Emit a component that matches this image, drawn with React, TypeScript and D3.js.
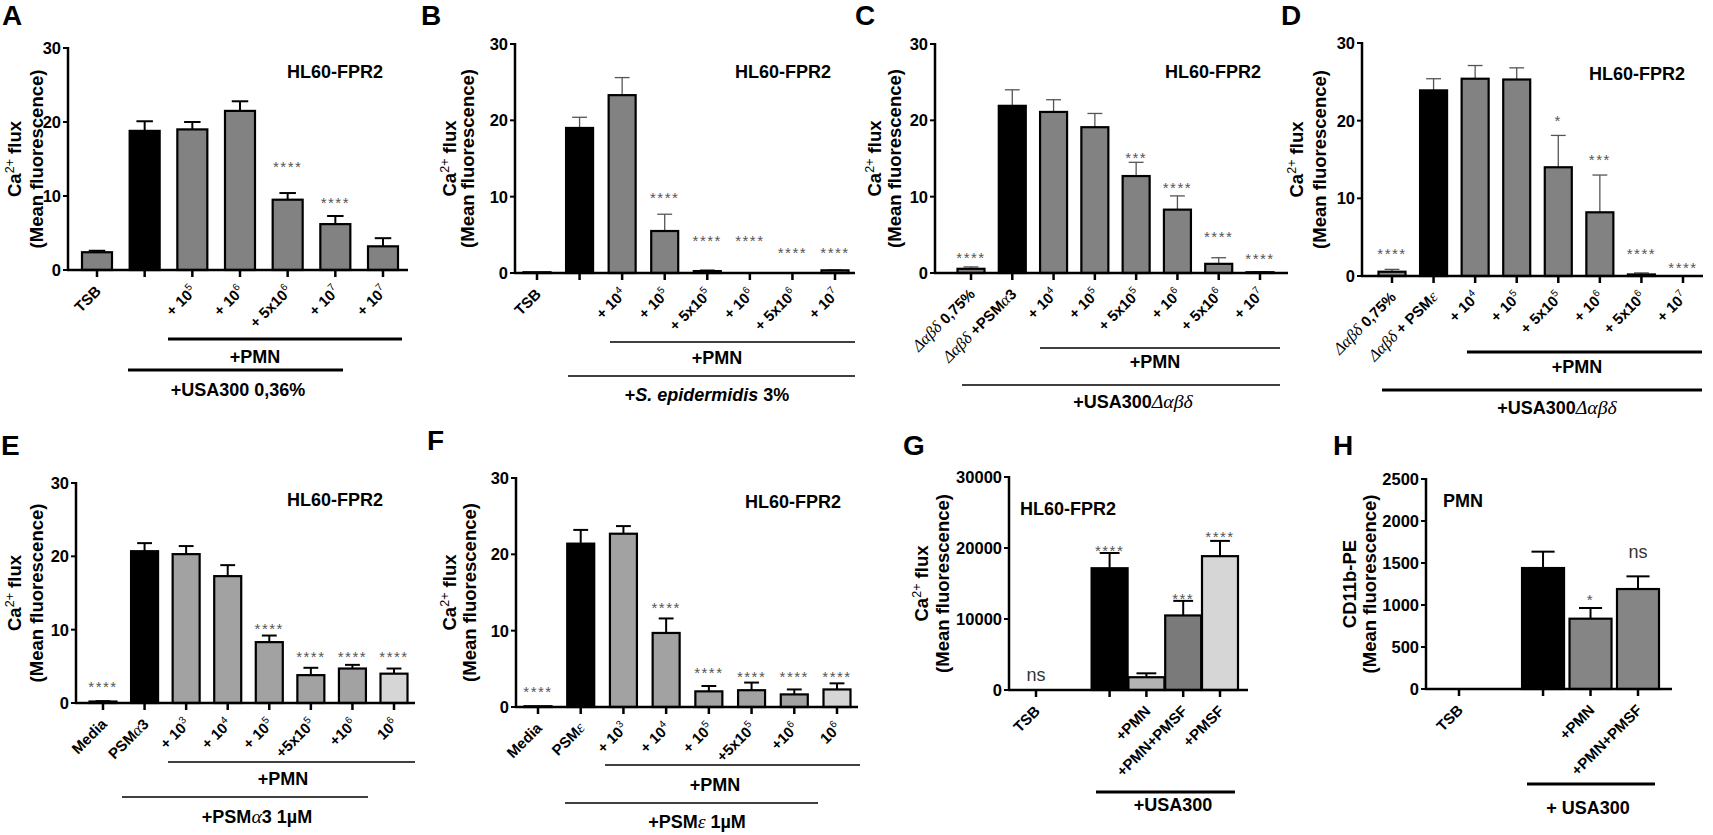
import React from "react";
import * as d3 from "d3";

// ---------- DATA ----------
// Panel A
const aLabels = ["TSB", "", "+ 10^5", "+ 10^6", "+ 5x10^6", "+ 10^7", "+ 10^7"];
const aMeans = [2.4, 18.8, 19.0, 21.5, 9.5, 6.2, 3.2];
const aErrors = [0.2, 1.3, 1.0, 1.3, 0.9, 1.1, 1.1];
const aMarks = ["", "", "", "", "****", "****", ""];
const aMarkY = [0, 0, 0, 0, 14.5, 9.6, 0];
const aGroups = ["+PMN", "+USA300 0,36%"];
const aTicks = [0, 10, 20, 30];

// Panel B
const bLabels = ["TSB", "", "+ 10^4", "+ 10^5", "+ 5x10^5", "+ 10^6", "+ 5x10^6", "+ 10^7"];
const bMeans = [0.1, 19.0, 23.3, 5.5, 0.25, 0, 0, 0.35];
const bErrors = [0, 1.4, 2.3, 2.2, 0.15, 0, 0, 0.05];
const bMarks = ["", "", "", "****", "****", "****", "****", "****"];
const bMarkY = [0, 0, 0, 10.4, 4.7, 4.7, 3.2, 3.2];
const bGroups = ["+PMN", "+_S. epidermidis_ 3%"];
const bTicks = [0, 10, 20, 30];

// Panel C
const cLabels = ["Δαβδ 0,75%", "Δαβδ +PSMα3", "+ 10^4", "+ 10^5", "+ 5x10^5", "+ 10^6", "+ 5x10^6", "+ 10^7"];
const cMeans = [0.55, 21.9, 21.1, 19.1, 12.7, 8.3, 1.2, 0.1];
const cErrors = [0.25, 2.1, 1.6, 1.8, 1.8, 1.8, 0.8, 0.05];
const cMarks = ["****", "", "", "", "***", "****", "****", "****"];
const cMarkY = [2.5, 0, 0, 0, 15.6, 11.6, 5.2, 2.4];
const cGroups = ["+PMN", "+USA300Δαβδ"];
const cTicks = [0, 10, 20, 30];

// Panel D
const dLabels = ["Δαβδ 0,75%", "Δαβδ + PSMε", "+ 10^4", "+ 10^5", "+ 5x10^5", "+ 10^6", "+ 5x10^6", "+ 10^7"];
const dMeans = [0.55, 23.9, 25.4, 25.3, 14.0, 8.2, 0.2, 0];
const dErrors = [0.3, 1.5, 1.7, 1.5, 4.1, 4.8, 0.2, 0];
const dMarks = ["****", "", "", "", "*", "***", "****", "****"];
const dMarkY = [3.4, 0, 0, 0, 20.5, 15.5, 3.4, 1.6];
const dGroups = ["+PMN", "+USA300Δαβδ"];
const dTicks = [0, 10, 20, 30];

// Panel E
const eLabels = ["Media", "PSMα3", "+ 10^3", "+ 10^4", "+ 10^5", "+5x10^5", "+10^6", "10^6"];
const eMeans = [0.2, 20.7, 20.3, 17.3, 8.3, 3.8, 4.7, 4.0];
const eErrors = [0.05, 1.1, 1.1, 1.5, 0.9, 1.0, 0.5, 0.7];
const eMarks = ["****", "", "", "", "****", "****", "****", "****"];
const eMarkY = [2.7, 0, 0, 0, 10.7, 6.8, 6.8, 6.8];
const eGroups = ["+PMN", "+PSMα3 1µM"];
const eTicks = [0, 10, 20, 30];

// Panel F
const fLabels = ["Media", "PSMε", "+ 10^3", "+ 10^4", "+ 10^5", "+5x10^5", "+10^6", "10^6"];
const fMeans = [0.1, 21.4, 22.7, 9.7, 2.05, 2.2, 1.65, 2.3];
const fErrors = [0, 1.8, 1.0, 1.9, 0.7, 1.0, 0.65, 0.8];
const fMarks = ["****", "", "", "****", "****", "****", "****", "****"];
const fMarkY = [2.5, 0, 0, 13.5, 5.0, 4.4, 4.4, 4.4];
const fGroups = ["+PMN", "+PSMε 1µM"];
const fTicks = [0, 10, 20, 30];

// Panel G
const gLabels = ["TSB", "", "+PMN", "+PMN+PMSF", "+PMSF"];
const gMeans = [0, 17150, 1800, 10500, 18850];
const gErrors = [0, 2150, 550, 2050, 2150];
const gMarks = ["ns", "****", "", "***", "****"];
const gMarkY = [2150, 20200, 0, 13400, 22100];
const gGroups = ["+USA300"];
const gTicks = [0, 10000, 20000, 30000];

// Panel H
const hLabels = ["TSB", "", "+PMN", "+PMN+PMSF"];
const hMeans = [0, 1440, 837, 1190];
const hErrors = [0, 195, 127, 151];
const hMarks = ["", "", "*", "ns"];
const hMarkY = [0, 0, 1103, 1639];
const hGroups = ["+ USA300"];
const hTicks = [0, 500, 1000, 1500, 2000, 2500];

const caTitle = ["Ca^2+ flux", "(Mean fluorescence)"];
const cdTitle = ["CD11b-PE", "(Mean fluorescence)"];

// ---------- STYLE / LAYOUT ----------
const SANS = "'Liberation Sans', Arial, Helvetica, sans-serif";
const SERIF = "'Liberation Serif', 'Times New Roman', serif";
const G1 = "#828282";
const GE = "#a2a2a2";
const GL = "#d6d6d6";

const FS_TICK = 16.5;
const FS_XLAB = 15;
const FS_TITLE = 18.5;
const FS_NOTE = 18;
const FS_GROUP = 18;
const FS_LETTER = 28;

type GroupLine = { x1: number; x2: number; y: number; tx: number; ty: number };
type Layout = {
  letter: string; letterX: number; letterY: number;
  axisX: number; axisEnd: number; yTop: number; yBot: number; yMax: number;
  xFirst: number; xLast: number; slots?: number[]; barW: number;
  fills: string[]; errColor: string; errW: number;
  titleDx: number[]; note: string; noteX: number; noteY: number; noteAnchor: string;
  lines: GroupLine[]; lineW: number;
};
type PanelData = {
  labels: string[]; means: number[]; errors: number[]; marks: string[]; markY: number[];
  groups: string[]; ticks: number[]; title: string[];
};

function rich(s: string, fs: number) {
  const segs: { t: string; kind: string; it: boolean }[] = [];
  let italic = false;
  let cur = "";
  let kind = "n";
  const push = () => {
    if (cur) segs.push({ t: cur, kind, it: italic });
    cur = "";
  };
  let i = 0;
  while (i < s.length) {
    const c = s[i];
    if (c === "_") { push(); italic = !italic; i++; continue; }
    if (c === "^") {
      push(); kind = "s"; i++;
      while (i < s.length && s[i] !== " ") { cur += s[i]; i++; }
      push(); kind = "n"; continue;
    }
    const k = "Δαβδε".includes(c) ? "g" : "n";
    if (k !== kind) { push(); kind = k; }
    cur += c; i++;
  }
  push();
  let raised = false;
  return segs.map((sg, j) => {
    const p: any = { key: j };
    if (sg.kind === "s") {
      p.fontSize = fs * 0.68; p.fontWeight = "normal"; p.dy = -fs * 0.42; raised = true;
    } else if (raised) {
      p.dy = fs * 0.42; raised = false;
    }
    if (sg.kind === "g") {
      p.fontFamily = SERIF; p.fontStyle = "italic"; p.fontWeight = "normal"; p.fontSize = fs * 1.1;
    }
    if (sg.it) p.fontStyle = "italic";
    return <tspan {...p}>{sg.t}</tspan>;
  });
}

function Panel({ d, L }: { d: PanelData; L: Layout }) {
  const y = d3.scaleLinear().domain([0, L.yMax]).range([L.yBot, L.yTop]);
  const slots = L.slots ?? d.means.map((_, i) => i);
  const x = d3.scaleLinear().domain([0, slots[slots.length - 1]]).range([L.xFirst, L.xLast]);
  const mid = (L.yTop + L.yBot) / 2;
  const capW = L.barW * 0.55;
  return (
    <g fontFamily={SANS}>
      <text x={L.letterX} y={L.letterY} fontSize={FS_LETTER} fontWeight="bold">{L.letter}</text>
      {d.title.map((t, i) => (
        <text key={i} transform={`translate(${L.axisX + L.titleDx[i]},${mid}) rotate(-90)`}
          textAnchor="middle" dy="0.35em" fontSize={FS_TITLE} fontWeight="bold">{rich(t, FS_TITLE)}</text>
      ))}
      {d.ticks.map((t) => (
        <g key={t}>
          <line x1={L.axisX - 5} x2={L.axisX} y1={y(t)} y2={y(t)} stroke="#000" strokeWidth={2} />
          <text x={L.axisX - 7} y={y(t)} dy="0.36em" textAnchor="end" fontSize={FS_TICK} fontWeight="bold">{t}</text>
        </g>
      ))}
      {d.means.map((m, i) => {
        const cx = x(slots[i]);
        const top = y(m);
        const et = y(m + d.errors[i]);
        return (
          <g key={i}>
            {d.errors[i] > 0 && (
              <g stroke={L.errColor} strokeWidth={L.errW}>
                <line x1={cx} x2={cx} y1={top} y2={et} />
                <line x1={cx - capW / 2} x2={cx + capW / 2} y1={et} y2={et} />
              </g>
            )}
            {m > 0 && (
              <rect x={cx - L.barW / 2} y={top} width={L.barW} height={L.yBot - top}
                fill={L.fills[i]} stroke="#000" strokeWidth={2.2} />
            )}
          </g>
        );
      })}
      <line x1={L.axisX} x2={L.axisX} y1={L.yTop - 1} y2={L.yBot} stroke="#000" strokeWidth={2.5} />
      <line x1={L.axisX - 1} x2={L.axisEnd} y1={L.yBot} y2={L.yBot} stroke="#000" strokeWidth={2.5} />
      {d.labels.map((lab, i) => {
        const cx = x(slots[i]);
        return (
          <g key={i}>
            <line x1={cx} x2={cx} y1={L.yBot} y2={L.yBot + 7} stroke="#000" strokeWidth={2.5} />
            {lab && (
              <text transform={`translate(${cx + 5},${L.yBot + 22}) rotate(-45)`} textAnchor="end"
                fontSize={FS_XLAB} fontWeight="bold">{rich(lab, FS_XLAB)}</text>
            )}
          </g>
        );
      })}
      {d.marks.map((mk, i) => {
        if (!mk) return null;
        const cx = x(slots[i]);
        const py = y(d.markY[i]);
        if (mk === "ns")
          return <text key={i} x={cx} y={py} dy="0.35em" textAnchor="middle" fontSize={18} fill="#333">ns</text>;
        return (
          <text key={i} x={cx} y={py + 9} textAnchor="middle" fontSize={15} letterSpacing={1.5} fill="#555">{mk}</text>
        );
      })}
      <text x={L.noteX} y={L.noteY} dy="0.36em" textAnchor={L.noteAnchor as any} fontSize={FS_NOTE} fontWeight="bold">{L.note}</text>
      {L.lines.map((g, i) => (
        <g key={i}>
          <line x1={g.x1} x2={g.x2} y1={g.y} y2={g.y} stroke="#000" strokeWidth={L.lineW} />
          <text x={g.tx} y={g.ty} dy="0.36em" textAnchor="middle" fontSize={FS_GROUP} fontWeight="bold">{rich(d.groups[i], FS_GROUP)}</text>
        </g>
      ))}
    </g>
  );
}

const grey = (n: number, first: string, last?: string) =>
  Array.from({ length: n }, (_, i) => (i === 1 ? "#000" : i === n - 1 && last ? last : first));

const panels: { d: PanelData; L: Layout }[] = [
  {
    d: { labels: aLabels, means: aMeans, errors: aErrors, marks: aMarks, markY: aMarkY, groups: aGroups, ticks: aTicks, title: caTitle },
    L: { letter: "A", letterX: 2, letterY: 25, axisX: 68, axisEnd: 408, yTop: 48, yBot: 270, yMax: 30,
      xFirst: 97, xLast: 383, barW: 30, fills: grey(7, G1), errColor: "#000", errW: 2, titleDx: [-53, -31],
      note: "HL60-FPR2", noteX: 335, noteY: 72, noteAnchor: "middle",
      lines: [{ x1: 168, x2: 402, y: 339, tx: 255, ty: 357 }, { x1: 128, x2: 343, y: 370, tx: 238, ty: 390 }], lineW: 3 },
  },
  {
    d: { labels: bLabels, means: bMeans, errors: bErrors, marks: bMarks, markY: bMarkY, groups: bGroups, ticks: bTicks, title: caTitle },
    L: { letter: "B", letterX: 421, letterY: 25, axisX: 515, axisEnd: 855, yTop: 44, yBot: 273, yMax: 30,
      xFirst: 537, xLast: 835, barW: 27, fills: grey(8, G1), errColor: "#555", errW: 1.3, titleDx: [-65, -47],
      note: "HL60-FPR2", noteX: 783, noteY: 72, noteAnchor: "middle",
      lines: [{ x1: 610, x2: 855, y: 342, tx: 717, ty: 358 }, { x1: 568, x2: 855, y: 376, tx: 707, ty: 395 }], lineW: 1.5 },
  },
  {
    d: { labels: cLabels, means: cMeans, errors: cErrors, marks: cMarks, markY: cMarkY, groups: cGroups, ticks: cTicks, title: caTitle },
    L: { letter: "C", letterX: 855, letterY: 25, axisX: 935, axisEnd: 1288, yTop: 44, yBot: 273, yMax: 30,
      xFirst: 971, xLast: 1260, barW: 27, fills: grey(8, G1), errColor: "#555", errW: 1.3, titleDx: [-60, -40],
      note: "HL60-FPR2", noteX: 1213, noteY: 72, noteAnchor: "middle",
      lines: [{ x1: 1040, x2: 1280, y: 348, tx: 1155, ty: 362 }, { x1: 962, x2: 1280, y: 385, tx: 1133, ty: 402 }], lineW: 1.5 },
  },
  {
    d: { labels: dLabels, means: dMeans, errors: dErrors, marks: dMarks, markY: dMarkY, groups: dGroups, ticks: dTicks, title: caTitle },
    L: { letter: "D", letterX: 1281, letterY: 25, axisX: 1362, axisEnd: 1703, yTop: 43, yBot: 276, yMax: 30,
      xFirst: 1392, xLast: 1683, barW: 27, fills: grey(8, G1), errColor: "#555", errW: 1.3, titleDx: [-65, -42],
      note: "HL60-FPR2", noteX: 1637, noteY: 74, noteAnchor: "middle",
      lines: [{ x1: 1467, x2: 1702, y: 352, tx: 1577, ty: 367 }, { x1: 1382, x2: 1702, y: 390, tx: 1557, ty: 408 }], lineW: 3 },
  },
  {
    d: { labels: eLabels, means: eMeans, errors: eErrors, marks: eMarks, markY: eMarkY, groups: eGroups, ticks: eTicks, title: caTitle },
    L: { letter: "E", letterX: 1, letterY: 455, axisX: 76, axisEnd: 415, yTop: 483, yBot: 703, yMax: 30,
      xFirst: 103, xLast: 394, barW: 27, fills: grey(8, GE, GL), errColor: "#000", errW: 2, titleDx: [-61, -39],
      note: "HL60-FPR2", noteX: 335, noteY: 500, noteAnchor: "middle",
      lines: [{ x1: 168, x2: 415, y: 762, tx: 283, ty: 779 }, { x1: 122, x2: 368, y: 797, tx: 257, ty: 817 }], lineW: 1.5 },
  },
  {
    d: { labels: fLabels, means: fMeans, errors: fErrors, marks: fMarks, markY: fMarkY, groups: fGroups, ticks: fTicks, title: caTitle },
    L: { letter: "F", letterX: 427, letterY: 450, axisX: 516, axisEnd: 858, yTop: 478, yBot: 707, yMax: 30,
      xFirst: 538, xLast: 837, barW: 27, fills: grey(8, GE, GL), errColor: "#000", errW: 2, titleDx: [-66, -46],
      note: "HL60-FPR2", noteX: 793, noteY: 502, noteAnchor: "middle",
      lines: [{ x1: 605, x2: 860, y: 765, tx: 715, ty: 785 }, { x1: 565, x2: 818, y: 803, tx: 697, ty: 822 }], lineW: 1.5 },
  },
  {
    d: { labels: gLabels, means: gMeans, errors: gErrors, marks: gMarks, markY: gMarkY, groups: gGroups, ticks: gTicks, title: caTitle },
    L: { letter: "G", letterX: 903, letterY: 455, axisX: 1009, axisEnd: 1248, yTop: 477, yBot: 690, yMax: 30000,
      xFirst: 1036, xLast: 1220, slots: [0, 2, 3, 4, 5], barW: 36,
      fills: ["#888", "#000", "#b3b3b3", "#7a7a7a", "#d6d6d6"], errColor: "#000", errW: 2, titleDx: [-87, -66],
      note: "HL60-FPR2", noteX: 1020, noteY: 509, noteAnchor: "start",
      lines: [{ x1: 1096, x2: 1235, y: 792, tx: 1173, ty: 805 }], lineW: 3 },
  },
  {
    d: { labels: hLabels, means: hMeans, errors: hErrors, marks: hMarks, markY: hMarkY, groups: hGroups, ticks: hTicks, title: cdTitle },
    L: { letter: "H", letterX: 1333, letterY: 455, axisX: 1426, axisEnd: 1672, yTop: 479, yBot: 689, yMax: 2500,
      xFirst: 1459, xLast: 1638, slots: [0, 1.77, 2.77, 3.77], barW: 42,
      fills: ["#888", "#000", "#858585", "#858585"], errColor: "#000", errW: 2, titleDx: [-76, -56],
      note: "PMN", noteX: 1443, noteY: 501, noteAnchor: "start",
      lines: [{ x1: 1527, x2: 1655, y: 784, tx: 1588, ty: 808 }], lineW: 3 },
  },
];

export default function App() {
  return (
    <svg width={1713} height={835} style={{ position: "absolute", left: 0, top: 0, background: "#fff" }}>
      <rect width={1713} height={835} fill="#fff" />
      {panels.map((p, i) => (
        <Panel key={i} d={p.d} L={p.L} />
      ))}
    </svg>
  );
}
